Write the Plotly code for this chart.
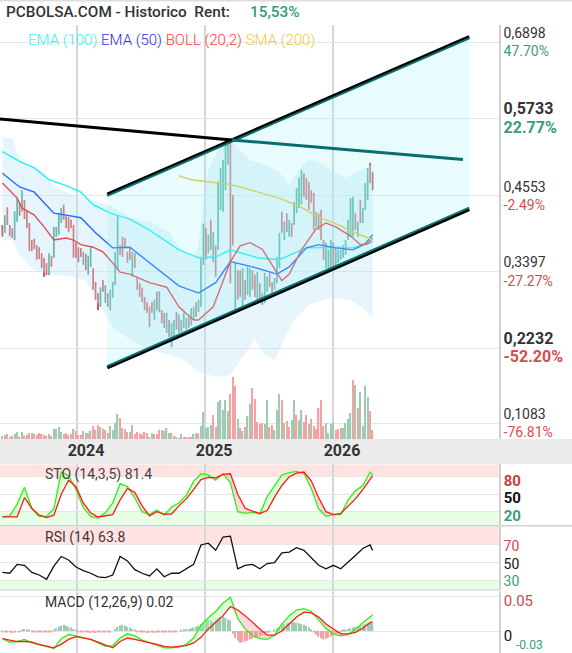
import numpy as np
import pandas as pd
import plotly.graph_objects as go

W, H = 572, 653
PLOT_W = 499  # width of the plotting area, right axis labels live in the margin

# ---------------- data ----------------
bar_dates = pd.date_range("2023-06-02", periods=152, freq="7D")

highs = [0.411, 0.426, 0.438, 0.411, 0.406, 0.432, 0.452, 0.445, 0.464, 0.449,
         0.434, 0.414, 0.388, 0.390, 0.380, 0.377, 0.368, 0.361, 0.353, 0.368,
         0.364, 0.408, 0.408, 0.429, 0.437, 0.442, 0.426, 0.423, 0.419, 0.411,
         0.384, 0.377, 0.376, 0.370, 0.367, 0.364, 0.377, 0.345, 0.324, 0.307,
         0.316, 0.327, 0.319, 0.307, 0.312, 0.324, 0.370, 0.426, 0.380, 0.393,
         0.391, 0.370, 0.377, 0.370, 0.368, 0.332, 0.322, 0.315, 0.301, 0.293,
         0.286, 0.293, 0.297, 0.309, 0.310, 0.281, 0.277, 0.277, 0.266, 0.261,
         0.266, 0.278, 0.274, 0.266, 0.277, 0.269, 0.271, 0.284, 0.286, 0.293,
         0.297, 0.361, 0.413, 0.406, 0.396, 0.419, 0.400, 0.380, 0.477, 0.498,
         0.510, 0.533, 0.536, 0.538, 0.457, 0.353, 0.342, 0.342, 0.345, 0.327,
         0.347, 0.345, 0.342, 0.335, 0.339, 0.322, 0.307, 0.338, 0.332, 0.338,
         0.324, 0.330, 0.362, 0.399, 0.431, 0.416, 0.429, 0.419, 0.414, 0.446,
         0.467, 0.483, 0.495, 0.490, 0.483, 0.477, 0.464, 0.460, 0.431, 0.429,
         0.434, 0.388, 0.384, 0.373, 0.388, 0.384, 0.377, 0.373, 0.373, 0.380,
         0.388, 0.419, 0.452, 0.454, 0.429, 0.416, 0.449, 0.437, 0.475, 0.498,
         0.506, 0.492]
lows = [0.393, 0.399, 0.411, 0.394, 0.391, 0.388, 0.416, 0.425, 0.431, 0.420,
        0.406, 0.371, 0.371, 0.374, 0.358, 0.359, 0.345, 0.332, 0.335, 0.335,
        0.347, 0.361, 0.393, 0.396, 0.414, 0.419, 0.406, 0.400, 0.406, 0.361,
        0.361, 0.354, 0.362, 0.350, 0.342, 0.335, 0.347, 0.312, 0.297, 0.281,
        0.286, 0.309, 0.292, 0.286, 0.281, 0.300, 0.319, 0.342, 0.365, 0.362,
        0.376, 0.353, 0.358, 0.332, 0.345, 0.312, 0.301, 0.293, 0.281, 0.277,
        0.255, 0.277, 0.266, 0.281, 0.278, 0.261, 0.254, 0.246, 0.240, 0.225,
        0.240, 0.251, 0.246, 0.248, 0.254, 0.251, 0.254, 0.258, 0.266, 0.271,
        0.278, 0.286, 0.350, 0.358, 0.368, 0.373, 0.354, 0.332, 0.373, 0.434,
        0.431, 0.464, 0.503, 0.322, 0.380, 0.281, 0.297, 0.301, 0.286, 0.297,
        0.304, 0.301, 0.312, 0.301, 0.297, 0.292, 0.289, 0.292, 0.309, 0.316,
        0.304, 0.312, 0.322, 0.345, 0.399, 0.388, 0.400, 0.393, 0.393, 0.411,
        0.429, 0.437, 0.442, 0.454, 0.449, 0.434, 0.445, 0.403, 0.408, 0.403,
        0.388, 0.358, 0.345, 0.342, 0.345, 0.347, 0.347, 0.353, 0.358, 0.361,
        0.365, 0.388, 0.393, 0.393, 0.403, 0.393, 0.414, 0.414, 0.434, 0.449,
        0.475, 0.464]
# g = week closed up, r = week closed down
candle_dir = ("rgrrrggrgr" "rrrrrrrrrg" "rggggrrrrr" "rrrgrggrrr" "grgrggggrr"
              "rrrgrrrrrr" "rrgrgrrgrg" "grgrggrggr" "gggrgrgrgg" "gggrrgrrgr"
              "ggrrgrgggr" "rgggrgrgrg" "gggrrrrrgr" "rrgggrgggg" "ggggrgrggg"
              "rr")

volume = [0.3, 0.4, 0.5, 0.23, 0.33, 0.53, 0.7, 0.23, 0.7, 0.33,
          0.4, 0.6, 0.6, 0.53, 0.43, 0.6, 0.5, 0.4, 0.33, 0.5,
          0.33, 1.0, 1.0, 1.2, 0.73, 0.5, 0.6, 0.43, 0.53, 1.0,
          0.83, 0.4, 0.43, 0.8, 0.6, 0.57, 0.83, 1.3, 0.93, 1.4,
          1.2, 1.03, 0.9, 0.6, 1.3, 0.9, 1.6, 2.5, 2.1, 1.1,
          1.0, 0.7, 0.73, 1.4, 0.5, 0.7, 0.57, 0.43, 0.7, 0.6,
          0.2, 0.6, 0.5, 0.5, 0.9, 0.9, 0.8, 1.1, 0.6, 0.6,
          0.33, 0.2, 0.1, 0.5, 0.2, 0.2, 0.2,
          0.17, 0.5, 0.57, 0.57, 1.3, 2.7, 1.1, 1.2, 1.4, 2.4,
          1.2, 3.7, 3.9, 2.9, 3.9, 2.8, 4.5, 6.2, 5.3, 2.0,
          1.1, 0.8, 1.2, 2.3, 3.5, 5.1, 4.0, 1.7, 1.5, 1.6,
          1.5, 3.9, 1.2, 1.4, 0.9, 2.9, 4.5, 3.9, 1.6, 1.8,
          1.2, 1.9, 3.9, 2.4, 1.9, 2.9, 1.7, 2.4, 1.5, 2.0,
          1.3, 1.0, 3.1, 3.9, 1.3, 1.6, 0.6, 1.5, 1.7, 0.9,
          1.0, 1.1, 1.1, 1.6, 2.0, 2.6, 5.9, 5.4, 3.1, 4.7,
          1.3, 5.3, 4.2, 2.8, 0.9]
volume_dir = ("rgrrrggrgr" "rrgrrrrrrg" "rggggrrrgr" "rrrgrrgrrr" "grrrggggrg"
              "rrgrrrrrrr" "ggrrrgrggg" "rgggrrr"
              "rggrggggg" "rrgggggrrr" "grgrggrrrr" "rggrrgggrg" "rrggrggrrg"
              "rrrrrrgggg" "rrrggggrgr" "ggggrr")

ema100_idx = [0, 7, 13, 19, 26, 32, 37, 44, 52, 60, 72, 80, 87, 93, 104, 113, 124, 135, 143, 151]
ema100 = [0.523, 0.508, 0.498, 0.480, 0.471, 0.461, 0.442, 0.429, 0.420, 0.403,
          0.373, 0.361, 0.362, 0.373, 0.361, 0.358, 0.376, 0.377, 0.376, 0.385]

ema50_idx = [0, 7, 13, 21, 26, 32, 38, 45, 52, 60, 72, 80, 87, 93, 102, 112, 117, 124,
             129, 136, 143, 148, 151]
ema50 = [0.490, 0.469, 0.461, 0.429, 0.426, 0.422, 0.399, 0.376, 0.377, 0.353, 0.318,
         0.307, 0.323, 0.355, 0.347, 0.336, 0.347, 0.376, 0.381, 0.376, 0.373, 0.382, 0.396]

boll_idx = [0, 6, 8, 13, 17, 21, 24, 26, 29, 32, 37, 41, 45, 48, 52, 60, 67, 72, 78, 80,
            86, 93, 97, 101, 106, 110, 114, 117, 122, 128, 132, 136, 142, 146, 149, 151]
boll_mid = [0.475, 0.452, 0.437, 0.426, 0.408, 0.388, 0.390, 0.391, 0.388, 0.381,
            0.377, 0.370, 0.353, 0.339, 0.336, 0.323, 0.316, 0.286, 0.266, 0.266,
            0.286, 0.355, 0.379, 0.384, 0.374, 0.350, 0.326, 0.336, 0.373, 0.405,
            0.414, 0.408, 0.394, 0.381, 0.382, 0.391]

boll_up_idx = [0, 4, 6, 8, 17, 21, 26, 32, 44, 52, 60, 68, 72, 78, 80, 82, 84, 88, 91, 95,
               101, 107, 113, 117, 121, 125, 129, 134, 140, 146, 151]
boll_up = [0.544, 0.544, 0.522, 0.507, 0.492, 0.470, 0.461, 0.454, 0.441, 0.422,
           0.416, 0.400, 0.377, 0.361, 0.380, 0.449, 0.495, 0.525, 0.541, 0.533,
           0.510, 0.503, 0.492, 0.472, 0.495, 0.510, 0.507, 0.495, 0.483, 0.495, 0.503]
boll_lo_idx = [0, 4, 6, 13, 21, 28, 34, 38, 42, 46, 52, 60, 68, 74, 80, 87, 93, 97, 103,
               107, 111, 115, 119, 125, 134, 142, 148, 151]
boll_lo = [0.388, 0.388, 0.370, 0.342, 0.335, 0.332, 0.327, 0.297, 0.274, 0.251,
           0.236, 0.220, 0.213, 0.205, 0.187, 0.179, 0.182, 0.205, 0.236, 0.213,
           0.205, 0.236, 0.266, 0.289, 0.300, 0.297, 0.281, 0.269]

sma200_idx = [72, 77, 84, 91, 97, 103, 113, 122, 129, 136, 143, 148, 151]
sma200 = [0.486, 0.480, 0.477, 0.474, 0.469, 0.463, 0.452, 0.438, 0.423, 0.413, 0.400, 0.393, 0.388]

# trend lines: (date, price) anchors
chan_dates = ["2024-03-27 12:00", "2027-01-25"]
chan_upper = [0.4578, 0.6983]
chan_lower = [0.1931, 0.4349]
resist_dates = ["2023-05-26", "2025-03-18", "2027-01-07"]
resist_prices = [0.5727, 0.5407, 0.5109]

# oscillators, sampled every 3 weeks
osc_idx = list(range(0, 151, 3)) + [151]
sto_k = [11, 13, 33, 62, 25, 12, 12, 25, 88, 82, 58, 27, 12, 9, 18, 35, 68, 63, 44, 20,
         15, 23, 14, 28, 35, 48, 72, 85, 83, 74, 85, 70, 20, 17, 19, 16, 46, 65, 83, 87,
         89, 86, 60, 25, 12, 15, 15, 40, 56, 65, 88, 83]
sto_d = [11, 11, 11, 44, 26, 14, 10, 14, 50, 74, 63, 35, 18, 11, 13, 15, 40, 60, 53, 30,
         13, 20, 16, 16, 30, 42, 58, 75, 79, 78, 84, 85, 50, 26, 21, 17, 22, 45, 65, 80,
         86, 88, 73, 44, 20, 15, 17, 30, 42, 58, 76, 81.4]
rsi = [39, 38, 48, 47, 39, 36, 31, 46, 57, 53, 45, 41, 38, 34, 33, 36, 57, 52, 42, 38,
       35, 43, 34, 38, 38, 43, 48, 70, 72, 64, 79, 80, 43, 47, 48, 43, 49, 50, 61, 62,
       67, 64, 56, 47, 43, 47, 43, 50, 58, 66, 70, 63.8]
macd = [-0.011, -0.016, -0.015, -0.012, -0.017, -0.020, -0.023, -0.025, -0.011, -0.005,
        -0.007, -0.009, -0.012, -0.017, -0.022, -0.021, -0.010, -0.004, -0.007, -0.013,
        -0.017, -0.020, -0.024, -0.024, -0.023, -0.019, -0.010, 0.008, 0.019, 0.028,
        0.040, 0.048, 0.018, 0.003, -0.006, -0.011, -0.012, -0.006, 0.010, 0.022,
        0.030, 0.032, 0.028, 0.016, 0.004, -0.004, -0.007, -0.005, 0.002, 0.012, 0.021, 0.023]
macd_signal = [-0.011, -0.013, -0.015, -0.015, -0.016, -0.019, -0.022, -0.024, -0.019, -0.012,
               -0.008, -0.010, -0.012, -0.016, -0.020, -0.024, -0.015, -0.010, -0.012, -0.014,
               -0.017, -0.019, -0.022, -0.023, -0.022, -0.021, -0.017, -0.009, 0.003, 0.013,
               0.022, 0.035, 0.030, 0.022, 0.012, 0.003, -0.006, -0.006, 0.000, 0.010,
               0.020, 0.027, 0.026, 0.020, 0.010, 0.003, -0.004, -0.004, -0.002, 0.004, 0.012, 0.013]
macd_hist = [-0.002, -0.002, -0.001, -0.002, -0.003, -0.001, 0, -0.001,
             0.002, 0.003, 0.002, 0.001,
             -0.001, -0.002, -0.002, -0.001, -0.002, -0.002, -0.001, -0.002, -0.001,
             0.002, 0.004, 0.006, 0.008, 0.009, 0.008, 0.006, 0.005, 0.003, 0.001,
             -0.001, -0.002, -0.002, -0.002, -0.002, -0.003, -0.002, -0.003, -0.002, -0.002,
             -0.001, -0.001, -0.002, -0.001, 0,
             0.003, 0.006, 0.008, 0.009, 0.008, 0.006, 0.005, 0.003, 0.001,
             -0.001, -0.002, -0.002, -0.002, -0.003, -0.002, -0.002, -0.003, -0.002, -0.002,
             -0.002, -0.002, -0.001, -0.002, -0.002, -0.001, -0.001, 0,
             0.001, 0.002, 0.003, 0.003, 0.004, 0.005, 0.006,
             0.008, 0.010, 0.012, 0.014, 0.016, 0.015, 0.013, 0.016, 0.018, 0.020, 0.021,
             0.019, 0.017, 0.015,
             -0.004, -0.010, -0.014, -0.017, -0.016, -0.015, -0.014, -0.012, -0.011, -0.010,
             -0.009, -0.008, -0.006, -0.005, -0.003, -0.002,
             0, 0.002, 0.004, 0.006,
             0.008, 0.010, 0.011, 0.012, 0.013, 0.012, 0.012, 0.011, 0.010, 0.009, 0.007,
             0.005, 0.002,
             -0.002, -0.005, -0.008, -0.010, -0.012, -0.011, -0.010, -0.008, -0.006, -0.004,
             -0.003, -0.001,
             0.001, 0.002, 0.003, 0.004, 0.005, 0.006, 0.007, 0.008, 0.009, 0.010, 0.011,
             0.012, 0.012]

price_ticks = [0.6898, 0.5733, 0.4553, 0.3397, 0.2232, 0.1083]
price_tick_labels = ["0,6898", "0,5733", "0,4553", "0,3397", "0,2232", "0,1083"]
pct_tick_labels = ["47.70%", "22.77%", "-2.49%", "-27.27%", "-52.20%", "-76.81%"]
bold_ticks = [False, True, False, False, True, False]
year_ticks = ["2024-01-01", "2025-01-01", "2026-01-01"]
year_labels = ["2024", "2025", "2026"]

# ---------------- styling ----------------
GREEN = "#1c9c76"
RED = "#d63636"
TXT = "#333333"
POS = "#3a9e70"
NEG = "#d64d4d"
GRID = "#e6e6e6"
VGRID = "#d6d6d6"
FONT = "Roboto"


def py(pix):
    return 1 - pix / H


def dates_at(idx):
    return [bar_dates[i] for i in idx]


fig = go.Figure()

# Bollinger band
band_x = dates_at(boll_up_idx) + dates_at(boll_lo_idx)[::-1]
band_y = boll_up + boll_lo[::-1]
fig.add_trace(go.Scatter(x=band_x, y=band_y, fill="toself", fillcolor="rgba(195,232,247,0.42)",
                         mode="lines", line=dict(width=0), hoverinfo="skip"))

# candles as thin high-low bars
opens = [lo if d == "g" else hi for hi, lo, d in zip(highs, lows, candle_dir)]
closes = [hi if d == "g" else lo for hi, lo, d in zip(highs, lows, candle_dir)]
fig.add_trace(go.Ohlc(x=bar_dates, open=opens, high=highs, low=lows, close=closes,
                      increasing_line_color=GREEN, decreasing_line_color=RED,
                      tickwidth=0, line=dict(width=1.7), hoverinfo="skip"))

# moving averages
for idx, vals, col in [(ema100_idx, ema100, "#1ff0f5"), (ema50_idx, ema50, "#2a66ff"),
                       (boll_idx, boll_mid, "#e84c55"), (sma200_idx, sma200, "#dccb3c")]:
    fig.add_trace(go.Scatter(x=dates_at(idx), y=vals, mode="lines",
                             line=dict(color=col, width=1.4), hoverinfo="skip"))

# channel fill over everything
fig.add_trace(go.Scatter(x=chan_dates + chan_dates[::-1], y=chan_upper + chan_lower[::-1],
                         fill="toself", fillcolor="rgba(150,240,245,0.22)", mode="lines",
                         line=dict(width=0), hoverinfo="skip"))
off = 1.6 / 655.2
fig.add_trace(go.Scatter(x=chan_dates, y=chan_upper, mode="lines", line=dict(color="black", width=3.5)))
fig.add_trace(go.Scatter(x=chan_dates, y=[v - off for v in chan_upper], mode="lines",
                         line=dict(color="#0b6e6e", width=2)))
fig.add_trace(go.Scatter(x=chan_dates, y=chan_lower, mode="lines", line=dict(color="black", width=3.5)))
fig.add_trace(go.Scatter(x=chan_dates, y=[v + off for v in chan_lower], mode="lines",
                         line=dict(color="#0b6e6e", width=2)))
fig.add_trace(go.Scatter(x=resist_dates[:2], y=resist_prices[:2], mode="lines",
                         line=dict(color="black", width=3)))
fig.add_trace(go.Scatter(x=resist_dates[1:], y=resist_prices[1:], mode="lines",
                         line=dict(color="#0b6e6e", width=3)))

# volume on an overlaid axis
fig.add_trace(go.Bar(x=bar_dates, y=volume, yaxis="y5", width=3.3e8,
                     marker=dict(color=["#9fcab4" if d == "g" else "#f4a3a3" for d in volume_dir],
                                 line=dict(width=0)), hoverinfo="skip"))

# stochastic
osc_x = dates_at(osc_idx)
k = np.array(sto_k)
d = np.array(sto_d)
fig.add_trace(go.Scatter(x=osc_x, y=d, xaxis="x2", yaxis="y2", mode="lines", line=dict(width=0)))
fig.add_trace(go.Scatter(x=osc_x, y=np.maximum(k, d), xaxis="x2", yaxis="y2", mode="lines",
                         line=dict(width=0), fill="tonexty", fillcolor="rgba(150,255,150,0.35)"))
fig.add_trace(go.Scatter(x=osc_x, y=np.minimum(k, d), xaxis="x2", yaxis="y2", mode="lines",
                         line=dict(width=0)))
fig.add_trace(go.Scatter(x=osc_x, y=d, xaxis="x2", yaxis="y2", mode="lines",
                         line=dict(width=0), fill="tonexty", fillcolor="rgba(255,150,150,0.35)"))
fig.add_trace(go.Scatter(x=osc_x, y=k, xaxis="x2", yaxis="y2", mode="lines",
                         line=dict(color="#33ee11", width=1.3)))
fig.add_trace(go.Scatter(x=osc_x, y=d, xaxis="x2", yaxis="y2", mode="lines",
                         line=dict(color="#ff1a1a", width=1.3)))

# RSI
fig.add_trace(go.Scatter(x=osc_x, y=rsi, xaxis="x3", yaxis="y3", mode="lines",
                         line=dict(color="#111111", width=1.3)))

# MACD
m = np.array(macd)
s = np.array(macd_signal)
fig.add_trace(go.Bar(x=bar_dates, y=macd_hist, xaxis="x4", yaxis="y4", width=3.3e8,
                     marker=dict(color=["#9fcab4" if v >= 0 else "#f4a3a3" for v in macd_hist],
                                 line=dict(width=0))))
fig.add_trace(go.Scatter(x=osc_x, y=s, xaxis="x4", yaxis="y4", mode="lines", line=dict(width=0)))
fig.add_trace(go.Scatter(x=osc_x, y=np.maximum(m, s), xaxis="x4", yaxis="y4", mode="lines",
                         line=dict(width=0), fill="tonexty", fillcolor="rgba(150,255,150,0.35)"))
fig.add_trace(go.Scatter(x=osc_x, y=np.minimum(m, s), xaxis="x4", yaxis="y4", mode="lines",
                         line=dict(width=0)))
fig.add_trace(go.Scatter(x=osc_x, y=s, xaxis="x4", yaxis="y4", mode="lines",
                         line=dict(width=0), fill="tonexty", fillcolor="rgba(255,150,150,0.35)"))
fig.add_trace(go.Scatter(x=osc_x, y=m, xaxis="x4", yaxis="y4", mode="lines",
                         line=dict(color="#33ee11", width=1.3)))
fig.add_trace(go.Scatter(x=osc_x, y=s, xaxis="x4", yaxis="y4", mode="lines",
                         line=dict(color="#ff1a1a", width=1.3)))

# ---------------- axes ----------------
x_range = ["2023-05-26 03:00", "2027-04-20"]
xcommon = dict(type="date", range=x_range, tickvals=year_ticks, showgrid=True, gridcolor=VGRID,
               gridwidth=2, zeroline=False, showline=False, ticks="")


def colored(txt, col, bold=True):
    t = f"<b>{txt}</b>" if bold else txt
    return f"<span style='color:{col}'>{t}</span>"


price_text = []
for p, pct, b in zip(price_tick_labels, pct_tick_labels, bold_ticks):
    col = POS if not pct.startswith("-") else NEG
    if b:
        price_text.append(f"<span style='font-size:16px'><b>{p}</b><br>{colored(pct, col)}</span>")
    else:
        price_text.append(f"{p}<br>{colored(pct, col, False)}")

main_dom = [py(439), py(25)]
ycommon = dict(side="right", showline=True, linecolor="#d0d0d0", linewidth=1.5, zeroline=False,
               showgrid=True, gridcolor=GRID, ticks="", tickfont=dict(family=FONT, size=15))

fig.update_layout(
    width=W, height=H, margin=dict(l=0, r=W - PLOT_W, t=0, b=0),
    paper_bgcolor="white", plot_bgcolor="white", showlegend=False,
    xaxis=dict(xcommon, anchor="y", domain=[0, 1], ticktext=year_labels, rangeslider=dict(visible=False),
               ticklabelshift=9,
               tickfont=dict(family=FONT, size=16, color=TXT, weight="bold")),
    xaxis2=dict(xcommon, anchor="y2", matches="x", showticklabels=False),
    xaxis3=dict(xcommon, anchor="y3", matches="x", showticklabels=False),
    xaxis4=dict(xcommon, anchor="y4", matches="x", showticklabels=False),
    yaxis=dict(ycommon, domain=main_dom, anchor="x", range=[0.0843, 0.7162],
               tickvals=price_ticks, ticktext=price_text,
               tickfont=dict(family=FONT, size=14, color=TXT)),
    yaxis5=dict(overlaying="y", range=[0, 41.4], visible=False),
    yaxis2=dict(ycommon, domain=[py(525.7), py(464.3)], anchor="x2", range=[-4, 101.3],
                tickvals=[20, 50, 80], ticklabelshift=4,
                ticktext=[colored("20", POS), colored("50", "#111"), colored("80", "#c94040")]),
    yaxis3=dict(ycommon, domain=[py(589.5), py(526.7)], anchor="x3", range=[19.6, 90.7],
                tickvals=[30, 50, 70], tickfont=dict(family=FONT, size=14), ticklabelshift=1,
                ticktext=[colored("30", POS, False), colored("50", "#111", False),
                          colored("70", "#d04848", False)]),
    yaxis4=dict(ycommon, domain=[0, py(590.5)], anchor="x4", range=[-0.0314, 0.0579],
                tickvals=[-0.03, 0, 0.05], tickfont=dict(family=FONT, size=15), ticklabelshift=5,
                ticktext=["", colored("0", "#111", False), colored("0.05", "#d04848", False)]),
)

shapes = [
    # x-axis band
    dict(type="rect", xref="paper", yref="paper", x0=0, x1=W / PLOT_W, y0=py(464), y1=py(439),
         fillcolor="#ebebeb", line=dict(width=0), layer="below"),
    dict(type="line", xref="paper", yref="paper", x0=0, x1=W / PLOT_W, y0=py(525.7), y1=py(525.7),
         line=dict(color="#d0d0d0", width=1.5)),
    dict(type="line", xref="paper", yref="paper", x0=0, x1=1, y0=py(590), y1=py(590),
         line=dict(color="#d8d8d8", width=1.5)),
    dict(type="line", xref="paper", yref="paper", x0=0, x1=W / PLOT_W, y0=py(0.8), y1=py(0.8),
         line=dict(color="#dddddd", width=1.5)),
    # overbought / oversold zones
    dict(type="rect", xref="x2 domain", yref="y2", x0=0, x1=1, y0=80, y1=101.3,
         fillcolor="#ffe3e3", line=dict(width=0), layer="below"),
    dict(type="rect", xref="x2 domain", yref="y2", x0=0, x1=1, y0=-4, y1=20,
         fillcolor="#e6fde6", line=dict(width=0), layer="below"),
    dict(type="rect", xref="x3 domain", yref="y3", x0=0, x1=1, y0=70, y1=90.7,
         fillcolor="#ffe3e3", line=dict(width=0), layer="below"),
    dict(type="rect", xref="x3 domain", yref="y3", x0=0, x1=1, y0=19.6, y1=30,
         fillcolor="#e6fde6", line=dict(width=0), layer="below"),
]
fig.update_layout(shapes=shapes)

legend_txt = ("<span style='color:#2ff5f5'>EMA (100)</span> "
              "<span style='color:#2b2bff'>EMA (50)</span> "
              "<span style='color:#ff3b3b'>BOLL (20,2)</span> "
              "<span style='color:#f2c840'>SMA (200)</span>")
annotations = [
    dict(text="PCBOLSA.COM - Historico  Rent:", x=4 / PLOT_W, y=py(12), xanchor="left",
         font=dict(family=FONT, size=15.3, color=TXT, weight=500)),
    dict(text="15,53%", x=248 / PLOT_W, y=py(12), xanchor="left",
         font=dict(family=FONT, size=15.3, color="#2e9e6e", weight=500)),
    dict(text=legend_txt, x=26 / PLOT_W, y=py(40), xanchor="left",
         font=dict(family=FONT, size=15, weight=300)),
    dict(text="STO (14,3,5) 81.4", x=43 / PLOT_W, y=py(474), xanchor="left",
         font=dict(family=FONT, size=14, color="#444444")),
    dict(text="RSI (14) 63.8", x=43 / PLOT_W, y=py(537.5), xanchor="left",
         font=dict(family=FONT, size=14, color="#4a3434")),
    dict(text="MACD (12,26,9) 0.02", x=43 / PLOT_W, y=py(602), xanchor="left",
         font=dict(family=FONT, size=14, color="#333333")),
]
for a in annotations:
    a.update(xref="paper", yref="paper", yanchor="middle", showarrow=False)
# lowest MACD level sits against the bottom edge, stepped right of the "0" label
annotations.append(dict(text="-0.03", x=515 / PLOT_W, y=0, xref="paper", yref="paper", xanchor="left",
                        yanchor="bottom", showarrow=False, borderpad=0,
                        font=dict(family=FONT, size=12, color=POS)))
fig.update_layout(annotations=annotations)

fig.write_html("out.html", config={"displayModeBar": False},
               post_script="document.body.style.margin='0';document.body.style.padding='0';"
                           "document.body.style.overflow='hidden';")
